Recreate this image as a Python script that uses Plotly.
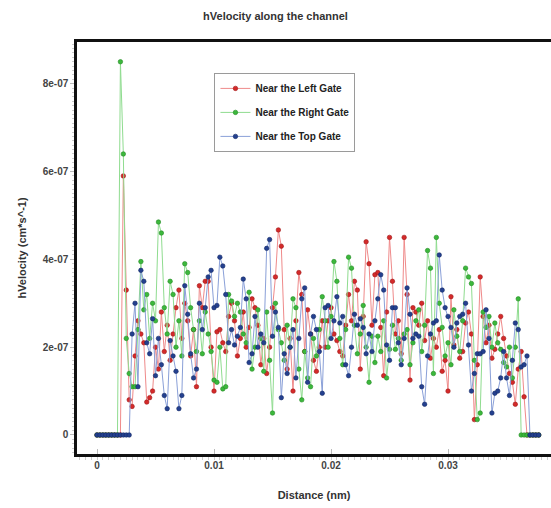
import numpy as np
import plotly.graph_objects as go

# Hole velocity samples along the channel (units of 1e-7 cm/s), one value per grid node
STEP_NM = 0.00025
VEL_UNIT = 1e-7

left_gate = [
    0, 0, 0, 0, 0, 0, 0, 0, 0,
    5.9, 3.3, 0.8, 0.65, 1.8, 2.6, 2.3, 2.1, 0.75, 0.85,
    1.0, 2.0, 1.5, 2.8, 1.9, 2.5, 1.7, 2.3, 2.9, 3.3,
    2.2, 3.0, 2.6, 1.8, 2.4, 1.1, 3.4, 2.9, 3.5, 3.5,
    2.0, 1.0, 2.35, 2.4, 2.1, 1.9, 2.7, 3.0, 2.6, 1.8,
    2.2, 2.8, 2.0, 2.45, 3.1, 2.9, 2.5, 1.6, 2.2, 1.4,
    2.0, 2.9, 3.6, 4.67, 4.3, 2.4, 1.5, 2.2, 1.0, 2.6,
    3.7, 3.2, 1.9, 2.85, 2.3, 1.7, 1.45, 2.0, 2.6, 2.0,
    2.6, 2.9, 2.3, 2.15, 1.9, 1.8, 2.5, 3.2, 2.6, 3.5,
    3.3, 1.5, 2.7, 4.4, 3.9, 2.5, 3.65, 3.7, 2.45, 1.35,
    2.8, 4.5, 3.5, 2.3, 2.6, 1.85, 4.5, 3.2, 1.25, 2.9,
    2.8, 2.5, 3.0, 2.15, 2.6, 1.75, 2.2, 2.0, 2.4, 1.45,
    1.7, 1.0, 3.15, 2.05, 2.4, 1.75, 1.9, 2.55, 2.8, 2.3,
    0.35, 1.6, 3.6, 2.7, 2.1, 2.5, 1.75, 1.95, 2.3, 2.7,
    2.2, 1.8, 1.4, 1.2, 0.7, 1.5, 1.9, 0.87,
    0, 0, 0, 0, 0,
]

right_gate = [
    0, 0, 0, 0, 0, 0, 0, 0,
    8.5, 6.4, 2.2, 1.4, 1.1, 1.1, 2.4, 3.95, 2.85, 3.2,
    2.2, 3.0, 2.6, 4.85, 4.6, 2.9, 2.3, 3.5, 3.2, 2.0,
    2.6, 1.8, 3.9, 3.7, 2.9, 2.4, 1.9, 2.6, 1.85, 2.8,
    2.3, 1.9, 1.25, 1.2, 2.0, 1.05, 1.1, 3.2, 3.05, 2.7,
    3.0, 2.8, 2.3, 2.1, 3.25, 1.5, 2.0, 2.85, 2.2, 1.45,
    2.8, 1.7, 0.5, 3.0, 2.4, 2.1, 1.7, 2.5, 2.0, 3.1,
    2.9, 1.5, 0.8, 1.9, 1.3, 1.1, 2.2, 1.8, 2.4, 3.15,
    2.6, 2.0, 2.7, 3.95, 3.5, 2.2, 1.6, 2.4, 4.05, 3.8,
    2.5, 1.85, 2.3, 2.95, 2.0, 1.2, 2.25, 1.65, 2.25, 1.9,
    2.6, 1.3, 1.95, 2.5, 1.95, 2.2, 1.7, 2.3, 2.4, 1.6,
    2.1, 2.6, 2.85, 1.9, 2.5, 4.2, 3.8, 1.4, 4.5, 3.0,
    2.45, 1.8, 2.1, 1.6, 2.85, 2.25, 1.9, 2.6, 3.8, 3.6,
    3.45, 1.7, 0.35, 0.5, 2.8, 2.45, 2.7, 2.0, 2.55, 2.1,
    1.95, 1.65, 1.55, 2.0, 1.3, 2.0, 3.1,
    0, 0, 0, 0, 0, 0, 0,
]

top_gate = [
    0, 0, 0, 0, 0, 0, 0, 0, 0, 0, 0, 0,
    2.3, 3.0, 1.1, 3.75, 3.5, 2.1, 1.85, 2.65, 1.35, 2.2,
    1.6, 0.9, 0.6, 2.15, 1.8, 1.45, 0.6, 0.9, 3.4, 2.75,
    1.85, 1.3, 1.5, 3.0, 2.4, 2.9, 3.6, 3.75, 2.9, 2.95,
    4.05, 3.85, 3.2, 2.1, 2.4, 2.05, 2.25, 2.45, 3.55, 3.1,
    1.65, 1.85, 2.7, 2.0, 2.3, 2.1, 4.25, 4.45, 2.25, 2.8,
    2.45, 0.85, 1.85, 1.4, 2.0, 2.4, 1.3, 2.2, 3.1, 3.35,
    1.2, 2.3, 2.7, 2.4, 1.9, 0.95, 2.9, 2.95, 2.2, 2.6,
    3.15, 2.55, 2.7, 1.6, 1.35, 2.0, 2.75, 2.5, 2.65, 2.45,
    1.85, 2.3, 1.9, 2.6, 3.1, 3.65, 3.3, 2.05, 1.7, 2.9,
    2.9, 2.1, 1.6, 2.2, 3.35, 2.75, 2.2, 2.3, 2.25, 1.1,
    0.7, 1.8, 2.3, 2.55, 2.6, 4.1, 3.3, 2.9, 2.7, 2.45,
    2.0, 2.55, 2.7, 2.75, 3.0, 2.05, 1.0, 1.4, 1.85, 1.85,
    1.9, 2.85, 2.2, 0.5, 0.95, 1.0, 1.3, 1.9, 1.3, 0.9,
    1.7, 2.55, 2.4, 1.55, 1.6, 1.8,
    0, 0, 0, 0,
]

series_names = ["Near the Left Gate", "Near the Right Gate", "Near the Top Gate"]

x_tick_vals = [0, 0.01, 0.02, 0.03]
x_tick_text = ["0", "0.01", "0.02", "0.03"]
y_tick_vals = [0, 2e-7, 4e-7, 6e-7, 8e-7]
y_tick_text = ["0", "2e-07", "4e-07", "6e-07", "8e-07"]

distance = np.arange(len(left_gate)) * STEP_NM

FONT = "Liberation Sans, Arial, sans-serif"
styles = [
    dict(line="#ef8a8a", marker="#d42a2a", edge="#a01818"),
    dict(line="#8fdc8f", marker="#3cb83c", edge="#238a23"),
    dict(line="#8aa0d8", marker="#24408f", edge="#142a66"),
]

fig = go.Figure()
for k, (name, vals, st) in enumerate(zip(series_names, [left_gate, right_gate, top_gate], styles)):
    fig.add_trace(go.Scatter(
        x=distance,
        y=np.array(vals) * VEL_UNIT,
        mode="lines+markers",
        name=name,
        legendgroup=f"g{k}",
        line=dict(color=st["line"], width=1),
        marker=dict(color=st["marker"], size=4.5,
                    line=dict(color=st["edge"], width=0.6)),
    ))

fig.update_layout(
    width=551,
    height=508,
    margin=dict(l=77, r=0, t=42, b=54),
    paper_bgcolor="white",
    plot_bgcolor="white",
    font=dict(family=FONT, size=11, color="#333333", weight="bold"),
    title=dict(
        text="hVelocity along the channel",
        x=0.5, xref="container", xanchor="center",
        y=0.968, yref="container", yanchor="middle",
        font=dict(family=FONT, size=11, color="#333333", weight="bold"),
    ),
    showlegend=True,
    legend=dict(
        x=0.29, y=0.925, xanchor="left", yanchor="top",
        bgcolor="white",
        bordercolor="#9a9a9a", borderwidth=1,
        font=dict(family=FONT, size=10, color="#222222", weight="bold"),
        itemwidth=30,
        tracegroupgap=5,
    ),
)

fig.update_xaxes(
    range=[-0.00171, 0.0388],
    tickvals=x_tick_vals,
    ticktext=x_tick_text,
    showgrid=False,
    zeroline=False,
    showline=True,
    linecolor="#111111",
    linewidth=2.5,
    mirror=True,
    ticks="inside",
    ticklen=5,
    tickcolor="#bbbbbb",
    minor=dict(dtick=0.0005, ticks="outside", ticklen=3, tickcolor="#cccccc"),
    tickfont=dict(family=FONT, size=10, color="#444444", weight="bold"),
    title=dict(text="Distance (nm)", standoff=22,
               font=dict(family=FONT, size=11, color="#333333", weight="bold")),
)

fig.update_yaxes(
    range=[-0.433e-7, 8.95e-7],
    tickvals=y_tick_vals,
    ticktext=y_tick_text,
    showgrid=False,
    zeroline=False,
    showline=True,
    linecolor="#111111",
    linewidth=2.5,
    mirror=False,
    ticks="outside",
    ticklen=4,
    tickcolor="#bbbbbb",
    minor=dict(dtick=1e-8, ticks="outside", ticklen=2, tickcolor="#cccccc"),
    tickfont=dict(family=FONT, size=10, color="#444444", weight="bold"),
    title=dict(text="hVelocity (cm*s^-1)", standoff=14,
               font=dict(family=FONT, size=11, color="#333333", weight="bold")),
)

fig.write_html("out.html")
